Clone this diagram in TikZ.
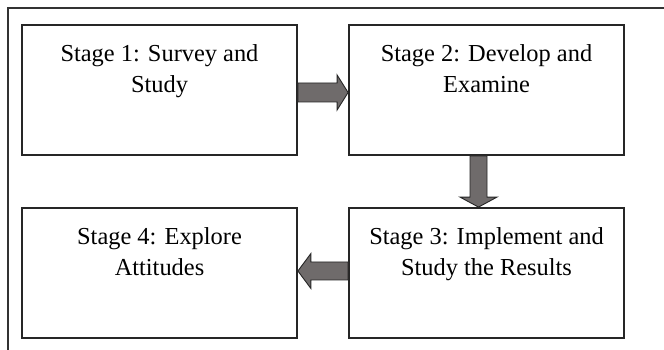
\documentclass[tikz,border=0pt]{standalone}
\usepackage{fontspec}
\setmainfont{Liberation Serif}
\usetikzlibrary{calc}
\definecolor{arrowgray}{RGB}{111,107,107}
\definecolor{framegray}{RGB}{50,50,50}
\tikzset{
  stagebox/.style={draw=black!85, line width=1.8pt, minimum width=275pt, minimum height=130pt, inner sep=0pt, fill=white},
  stagetext/.style={anchor=north, align=center, inner sep=0pt, font=\fontsize{24.4}{31.5}\selectfont},
  blockarrow/.style={draw=black!85, line width=0.9pt, fill=arrowgray, line join=miter},
  frameline/.style={draw=framegray, line width=1.3pt}
}
\begin{document}
\begin{tikzpicture}[x=1pt,y=1pt]
\useasboundingbox (0,0) rectangle (664,350);
\fill[white] (0,0) rectangle (664,350);
% frame
\coordinate (ftl) at (8,342);
\coordinate (ftr) at (664,342);
\coordinate (fbl) at (8,0);
\draw[frameline] (ftr) -- (ftl) -- (fbl);
% boxes
\node[stagebox] (b1) at (159.5,260) {};
\node[stagebox] (b2) at (486.5,260) {};
\node[stagebox] (b3) at (486.5,77) {};
\node[stagebox] (b4) at (159.5,77) {};
\node[stagetext] (t1) at ($(b1.north)+(0,-20)$) {Stage 1: Survey and\\Study};
\node[stagetext] (t2) at ($(b2.north)+(0,-20)$) {Stage 2: Develop and\\Examine};
\node[stagetext] (t3) at ($(b3.north)+(0,-20)$) {Stage 3: Implement and\\Study the Results};
\node[stagetext] (t4) at ($(b4.north)+(0,-20)$) {Stage 4: Explore\\Attitudes};
% arrow 1 -> 2
\draw[blockarrow]
  ($(b1.east)+(0,7)$) -- ($(b2.west)+(-11,7)$) -- ($(b2.west)+(-11,15)$) --
  ($(b2.west)+(0,-2.5)$) -- ($(b2.west)+(-11,-20)$) -- ($(b2.west)+(-11,-12)$) --
  ($(b1.east)+(0,-12)$) -- cycle;
% arrow 2 -> 3
\draw[blockarrow]
  ($(b2.south)+(-16.5,0)$) -- ($(b3.north)+(-16.5,10)$) -- ($(b3.north)+(-26.5,10)$) --
  ($(b3.north)+(-8,0)$) -- ($(b3.north)+(10.5,10)$) -- ($(b3.north)+(0.5,10)$) --
  ($(b2.south)+(0.5,0)$) -- cycle;
% arrow 3 -> 4
\draw[blockarrow]
  ($(b3.west)+(0,11)$) -- ($(b4.east)+(13,11)$) -- ($(b4.east)+(13,19.5)$) --
  ($(b4.east)+(0,2)$) -- ($(b4.east)+(13,-15.5)$) -- ($(b4.east)+(13,-7)$) --
  ($(b3.west)+(0,-7)$) -- cycle;
\end{tikzpicture}
\end{document}
